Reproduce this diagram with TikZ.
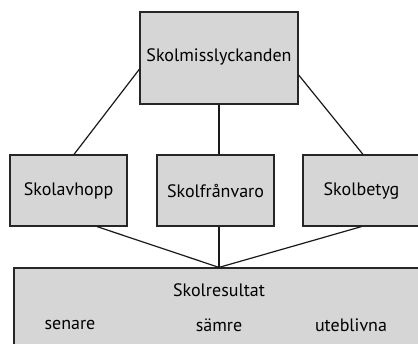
\documentclass[tikz,border=0pt]{standalone}
\usepackage{fontspec}
\setmainfont{PT Sans}
\usetikzlibrary{positioning}

\begin{document}
\begin{tikzpicture}[
    x=1pt, y=-1pt,
    box/.style={rectangle, draw=black!85, fill=black!16, line width=1.2pt, font=\fontsize{18}{21}\selectfont, inner sep=0pt},
    word/.style={font=\fontsize{18}{21}\selectfont, inner sep=0pt},
    link/.style={line width=1.2pt, draw=black!90}
]
\useasboundingbox (0,0) rectangle (418,343);
\clip (0,0) rectangle (418,343);

% Nodes
\node[box, minimum width=158pt, minimum height=92pt] (misslyckande) at (219,58) {\raisebox{5pt}{Skolmisslyckanden}};
\node[box, minimum width=117pt, minimum height=71pt] (avhopp) at (68.5,190.5) {Skolavhopp};
\node[box, minimum width=117pt, minimum height=71pt] (franvaro) at (215.5,190.5) {Skolfrånvaro};
\node[box, minimum width=117pt, minimum height=71pt] (betyg) at (361.5,190.5) {Skolbetyg};
\node[box, minimum width=416pt, minimum height=84pt] (resultat) at (222,310) {};
\node[word] (rubrik) at (219,290) {Skolresultat};
\node[word] (senare) at (70,325) {senare};
\node[word] (samre) at (219,325) {sämre};
\node[word] (uteblivna) at (351,325) {uteblivna};

% Lines
\draw[link] (misslyckande.188) -- ([xshift=5.5pt]avhopp.north);
\draw[link] (misslyckande.south) -- ([xshift=3.5pt]franvaro.north);
\draw[link] (misslyckande.348) -- ([xshift=1.5pt]betyg.north);
\draw[link] ([xshift=28.5pt]avhopp.south) -- ([xshift=-3pt]resultat.north);
\draw[link] ([xshift=3.5pt]franvaro.south) -- ([xshift=-3pt]resultat.north);
\draw[link] (betyg.south) -- ([xshift=-3pt]resultat.north);

\end{tikzpicture}
\end{document}
